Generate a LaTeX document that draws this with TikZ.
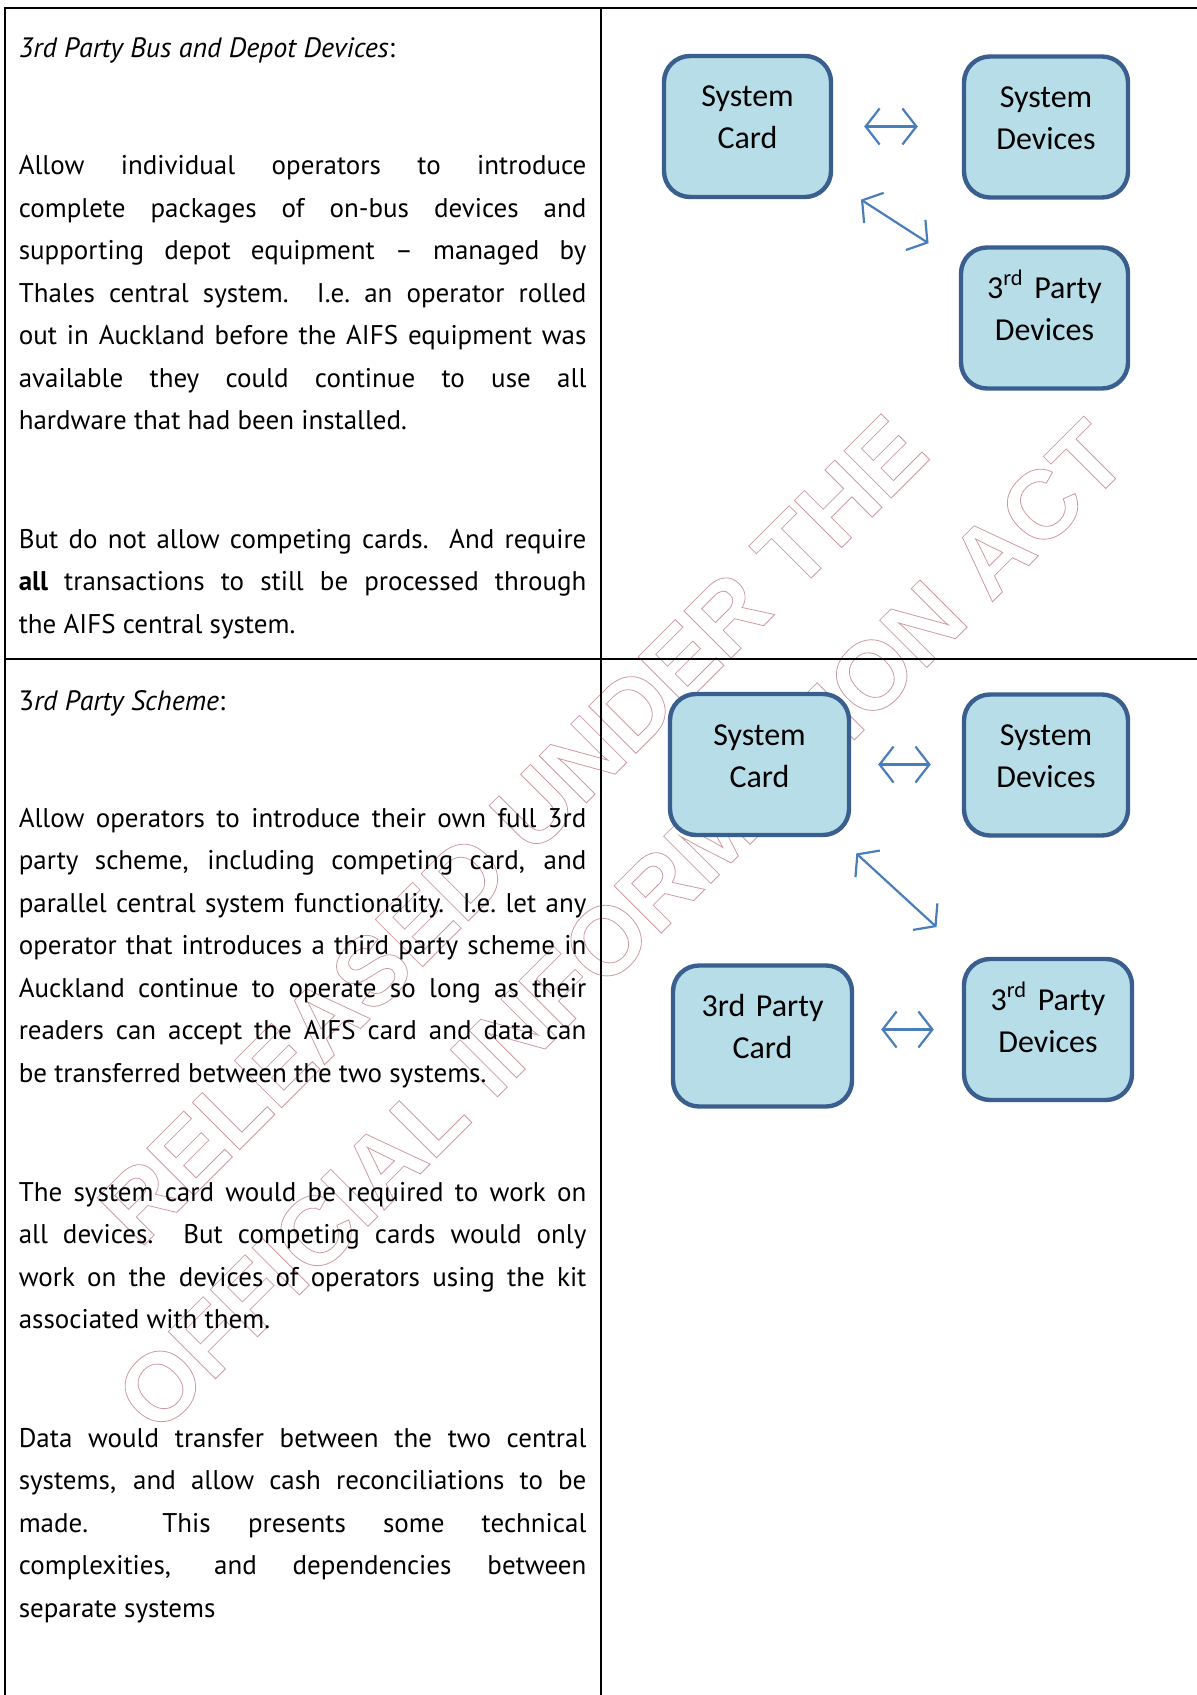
\documentclass[tikz,border=0pt]{standalone}
\usepackage{fontspec}
\setmainfont{PT Sans}
\newfontfamily\boxfont{Carlito}
\newfontfamily\markfont{Liberation Sans}
\usepackage{xcolor}
\usepackage{tikz}
\usetikzlibrary{calc, arrows.meta}
\definecolor{boxfill}{HTML}{B7DEE8}
\definecolor{boxline}{HTML}{3A5F8E}
\definecolor{linkblue}{HTML}{4A7EBB}
\definecolor{stamp}{HTML}{CD9AA2}
\tikzset{
	grid/.style={line width=1pt},
	head/.style={anchor=base west, inner sep=0pt, font=\fontsize{14}{21.25}\selectfont},
	para/.style={anchor=base west, inner sep=0pt, text width=283.8pt, align=justify, font=\fontsize{13.5}{21.25}\selectfont},
	cardbox/.style={draw=boxline, fill=boxfill, line width=2.2pt, rounded corners=13pt, inner sep=0pt, text width=#1, align=center, text height=25.5pt, text depth=45pt, font=\boxfont\fontsize{16}{21}\selectfont},
	link/.style={draw=linkblue, line width=1.1pt, {Straight Barb[length=7pt,width=18pt]}-{Straight Barb[length=7pt,width=18pt]}},
	stamptext/.style={text=stamp, rotate=45, inner sep=0pt, font=\markfont\bfseries\fontsize{48.5}{60}\selectfont}
}

\begin{document}
\begin{tikzpicture}[x=0.5pt,y=-0.5pt]
	\useasboundingbox (0,0) rectangle (1197,1695);
	
	\coordinate (corner) at (5.4,7.6);
	\coordinate (mid) at (601,658.5);
	
	\coordinate (head1) at (18.4,58);
	\coordinate (text1) at ($ (head1) + (0,117) $);
	\coordinate (text2) at ($ (text1) + (0,373) $);
	\coordinate (head2) at ($ (head1) + (0,652.5) $);
	\coordinate (text3) at ($ (head2) + (0,116.5) $);
	\coordinate (text4) at ($ (text3) + (0,374) $);
	\coordinate (text5) at ($ (text4) + (0,246) $);
	
	\newcommand{\OUTLINE}[1]{\special{pdf:literal direct 1 Tr 0.4 w}#1\special{pdf:literal direct 0 Tr}}
	\newcommand{\TXT}[3]{\node[para] (#1) at (#2) {#3};}
	
	\node[stamptext] (mark1) at (512.5,829.5) {\OUTLINE{RELEASED UNDER THE}};
	\node[stamptext] (mark2) at (621,926) {\OUTLINE{OFFICIAL INFORMATION ACT}};
	
	\draw[grid] (corner |- 0,1695) -- (corner) -- (1197,7.6);
	\draw[grid] (mid |- corner) -- (mid |- 0,1695);
	\draw[grid] (corner |- mid) -- (1197,658.5);
	
	\node[head] (title1) at (head1) {\textit{3rd Party Bus and Depot Devices}:};
	\TXT{para1}{text1}{Allow individual operators to introduce\linebreak complete packages of on-bus devices and\linebreak supporting depot equipment -- managed by\linebreak Thales central system.\ \ I.e.\ an operator rolled\linebreak out in Auckland before the AIFS equipment was\linebreak available they could continue to use all\linebreak hardware that had been installed.}
	\TXT{para2}{text2}{But do not allow competing cards.\ \ And require\linebreak \textbf{all} transactions to still be processed through\linebreak the AIFS central system.}
	
	\node[head] (title2) at (head2) {3\textit{rd Party Scheme}:};
	\TXT{para3}{text3}{Allow operators to introduce their own full 3rd\linebreak party scheme, including competing card, and\linebreak parallel central system functionality.\ \ I.e.\ let any\linebreak operator that introduces a third party scheme in\linebreak Auckland continue to operate so long as their\linebreak readers can accept the AIFS card and data can\linebreak be transferred between the two systems.}
	\TXT{para4}{text4}{The system card would be required to work on\linebreak all devices.\ \ But competing cards would only\linebreak work on the devices of operators using the kit\linebreak associated with them.}
	\TXT{para5}{text5}{Data would transfer between the two central\linebreak systems, and allow cash reconciliations to be\linebreak made.\ \ This presents some technical\linebreak complexities, and dependencies between\linebreak separate systems}
	
	\node[cardbox=83.5pt] (card1) at (747.5,126.5) {System\\Card};
	\node[cardbox=82pt] (dev1) at (1046,127) {System\\Devices};
	\node[cardbox=83.5pt] (party1) at (1044.5,318) {3\textsuperscript{rd} Party\\Devices};
	
	\node[cardbox=89.5pt] (card2) at (759.5,764.5) {System\\Card};
	\node[cardbox=82pt] (dev2) at (1046,765) {System\\Devices};
	\node[cardbox=89.5pt] (card3) at (762.5,1036) {3rd Party\\Card};
	\node[cardbox=84pt] (party2) at (1048,1029.5) {3\textsuperscript{rd} Party\\Devices};
	
	\draw[link, shorten <=15.5pt, shorten >=22pt] (card1.east) -- (card1.east -| dev1.west);
	\draw[link, shorten <=16.5pt, shorten >=18pt] (card1) -- (party1);
	
	\draw[link, shorten <=13.5pt, shorten >=15.5pt] (card2.east) -- (card2.east -| dev2.west);
	\draw[link, shorten <=12pt, shorten >=22pt] (card2) -- (party2);
	\draw[link, shorten <=13.5pt, shorten >=14pt] (card3.east |- party2.west) -- (party2.west);
	
\end{tikzpicture}
\end{document}
